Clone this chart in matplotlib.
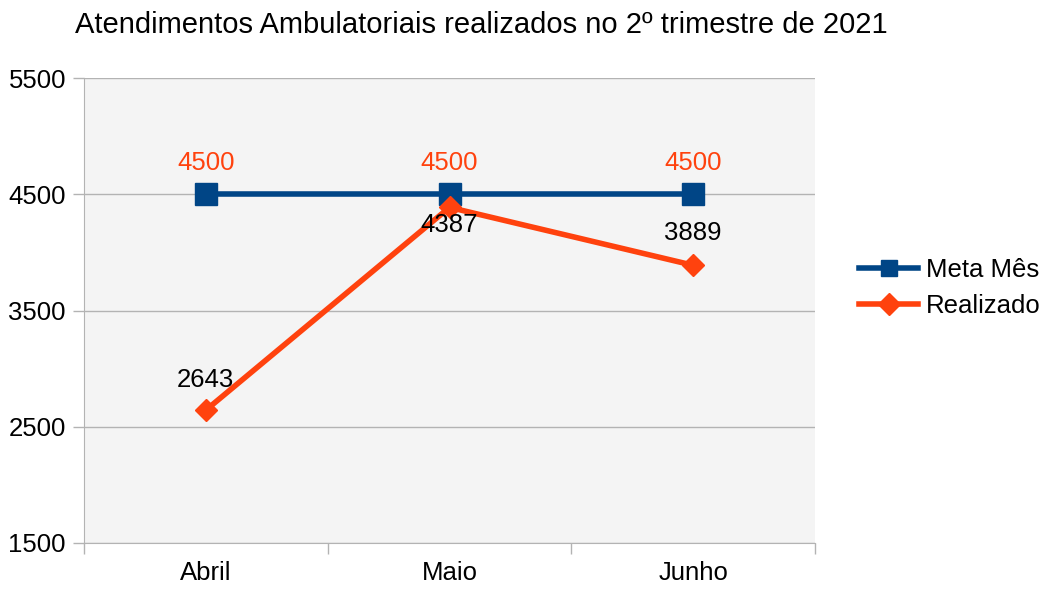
import matplotlib
matplotlib.use("Agg")
import matplotlib.pyplot as plt

plt.rcParams['font.family'] = ['Liberation Sans', 'DejaVu Sans']

categories = ["Abril", "Maio", "Junho"]
meta = [4500, 4500, 4500]
realizado = [2643, 4387, 3889]
yticks = [1500, 2500, 3500, 4500, 5500]
title = "Atendimentos Ambulatoriais realizados no 2º trimestre de 2021"

blue = "#004586"
orange = "#ff420e"

fig = plt.figure(figsize=(10.46, 5.9), dpi=100)
ax = fig.add_axes([84/1046, 1-543/590, (815-84)/1046, (543-78)/590])
ax.set_facecolor("#f4f4f4")

x = list(range(len(categories)))
ax.plot(x, meta, color=blue, lw=4, marker="s", ms=16, label="Meta Mês", zorder=3)
ax.plot(x, realizado, color=orange, lw=4, marker="D", ms=11, label="Realizado", zorder=4)

for xi, v in zip(x, meta):
    ax.annotate(f"{v}", (xi, v), xytext=(0, 22.5), textcoords="offset points",
                ha="center", va="center", color=orange, fontsize=18.5)
offsets = [22, -12.5, 23]
for xi, v, off in zip(x, realizado, offsets):
    ax.annotate(f"{v}", (xi, v), xytext=(0, off), textcoords="offset points",
                ha="center", va="center", color="black", fontsize=18.5, zorder=5)

ax.set_xlim(-0.5, len(categories) - 0.5)
ax.set_ylim(1500, 5500)
ax.set_yticks(yticks)
ax.set_yticklabels([str(t) for t in yticks], fontsize=18.5)
ax.set_xticks(x)
ax.set_xticklabels(categories, fontsize=18.5)
ax.set_xticks([-0.5, 0.5, 1.5, 2.5], minor=True)
ax.tick_params(axis="x", which="major", length=0, pad=13)
ax.tick_params(axis="x", which="minor", length=8, color="#b3b3b3", width=1)
ax.tick_params(axis="y", length=8, color="#b3b3b3", width=1, pad=5)
ax.grid(axis="y", color="#b3b3b3", lw=1)
ax.set_axisbelow(True)
for s in ["top", "right"]:
    ax.spines[s].set_visible(False)
for s in ["left", "bottom"]:
    ax.spines[s].set_color("#b3b3b3")

fig.text(75/1046, 1-25/590, title, fontsize=21, ha="left", va="center")

leg = fig.legend(loc="center left", bbox_to_anchor=(859/1046, 1-288/590), frameon=False,
                 fontsize=18.5, handlelength=2.3, handletextpad=0.3, labelspacing=0.45,
                 borderpad=0, borderaxespad=0)
for h in leg.legend_handles:
    h.set_markersize(11)

fig.savefig("out.png", dpi=100)
